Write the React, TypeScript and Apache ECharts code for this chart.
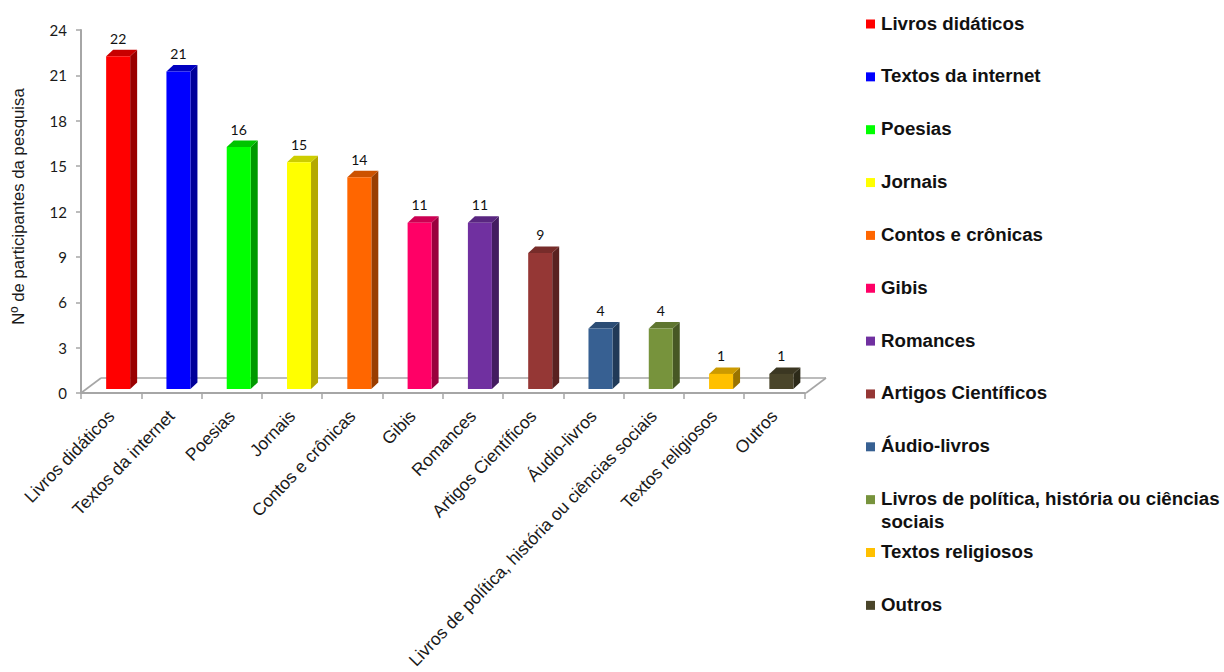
import React, { useEffect, useRef } from "react";
import * as echarts from "echarts";

const categories = [
  "Livros didáticos",
  "Textos da internet",
  "Poesias",
  "Jornais",
  "Contos e crônicas",
  "Gibis",
  "Romances",
  "Artigos Científicos",
  "Áudio-livros",
  "Livros de política, história ou ciências sociais",
  "Textos religiosos",
  "Outros",
];
const keyLabels = categories.map((name) =>
  name.replace("ciências sociais", "ciências\nsociais"),
);
const participants = [22, 21, 16, 15, 14, 11, 11, 9, 4, 4, 1, 1];
const barColors = [
  "#ff0000", "#0000ff", "#00ff00", "#ffff00", "#ff6600", "#ff0066",
  "#7030a0", "#953735", "#376092", "#77933c", "#ffc000", "#4a452a",
];
const topColors = [
  "#c80000", "#0000c0", "#00c400", "#cdcd00", "#cc5200", "#cc0052",
  "#592680", "#772c2a", "#2c4d75", "#5f7630", "#cc9a00", "#3b3722",
];
const sideColors = [
  "#990000", "#000099", "#009900", "#b3a800", "#993d00", "#99003d",
  "#431c60", "#592120", "#213a58", "#475824", "#997300", "#2c2a19",
];

const AXIS_COLOR = "#a6a6a6";
const BAR_SHIFT = 5; // front face starts left of the category centre by this much
const BAR_WIDTH = 24;
const DEPTH_X = 7;
const DEPTH_Y = 6.5;
const LIFT = 4; // bars stand slightly above the front edge of the floor

const renderBar = (params: any, api: any) => {
  const i = api.value(0);
  const v = api.value(1);
  const [cx, top] = api.coord([i, v]);
  const [, base] = api.coord([i, 0]);
  const l = cx - BAR_SHIFT;
  const r = l + BAR_WIDTH;
  const t = top - LIFT;
  const b = base - LIFT;
  return {
    type: "group",
    children: [
      {
        type: "polygon",
        shape: { points: [[r, t], [r + DEPTH_X, t - DEPTH_Y], [r + DEPTH_X, b - DEPTH_Y], [r, b]] },
        style: { fill: sideColors[i] },
      },
      {
        type: "polygon",
        shape: { points: [[l, t], [l + DEPTH_X, t - DEPTH_Y], [r + DEPTH_X, t - DEPTH_Y], [r, t]] },
        style: { fill: topColors[i] },
      },
      {
        type: "rect",
        shape: { x: l, y: t, width: BAR_WIDTH, height: b - t },
        style: { fill: barColors[i] },
      },
      {
        type: "text",
        style: {
          text: String(v),
          x: l + BAR_WIDTH / 2,
          y: t - DEPTH_Y - 11.5,
          align: "center",
          verticalAlign: "middle",
          font: "14px Lato",
          fill: "#111111",
        },
      },
    ],
  };
};

// Floor outline of the pseudo-3D plot and the hand-placed key on the right.
const floorLine = (x1: number, y1: number, x2: number, y2: number) => ({
  type: "line",
  z: 0,
  shape: { x1, y1, x2, y2 },
  style: { stroke: AXIS_COLOR, lineWidth: 1.6 },
});

const keyEntries = keyLabels.flatMap((label, i) => {
  const y = 24 + i * 52.85;
  return [
    {
      type: "rect",
      shape: { x: 866, y: y - 4.5, width: 9, height: 9 },
      style: { fill: barColors[i] },
    },
    {
      type: "text",
      x: 881,
      y: y - 12.5,
      style: {
        text: label,
        lineHeight: 23,
        verticalAlign: "top",
        font: "bold 18.7px 'Liberation Sans'",
        fill: "#111111",
      },
    },
  ];
});

export default function App() {
  const ref = useRef<HTMLDivElement>(null);

  useEffect(() => {
    const chart = echarts.init(ref.current!, undefined, { renderer: "svg" });
    chart.setOption({
      animation: false,
      backgroundColor: "#ffffff",
      grid: { left: 81, right: 419.5, top: 30, bottom: 279 },
      xAxis: {
        type: "category",
        data: categories,
        axisLine: { lineStyle: { color: AXIS_COLOR, width: 2 } },
        axisTick: { show: true, length: 6, alignWithLabel: false, lineStyle: { color: AXIS_COLOR, width: 1.5 } },
        axisLabel: {
          rotate: 46,
          interval: 0,
          margin: 20,
          fontFamily: "Liberation Sans",
          fontSize: 17.5,
          color: "#1a1a1a",
        },
        splitLine: { show: false },
      },
      yAxis: {
        type: "value",
        min: 0,
        max: 24,
        interval: 3,
        name: "Nº de participantes da pesquisa",
        nameLocation: "middle",
        nameGap: 54,
        nameTextStyle: { fontFamily: "Liberation Sans", fontSize: 16.8, color: "#1a1a1a", padding: [0, 0, 0, 10] },
        axisLine: { show: true, lineStyle: { color: AXIS_COLOR, width: 2 } },
        axisTick: { show: true, length: 5, lineStyle: { color: AXIS_COLOR, width: 1.5 } },
        axisLabel: { fontFamily: "Lato", fontSize: 15, color: "#1a1a1a", margin: 14 },
        splitLine: { show: false },
      },
      series: [
        {
          type: "custom",
          name: "Nº de participantes",
          clip: false,
          z: 5,
          data: participants.map((v, i) => [i, v]),
          encode: { x: 0, y: 1 },
          renderItem: renderBar,
        },
      ],
      graphic: [
        floorLine(81, 393, 101, 378),
        floorLine(101, 378, 826, 378),
        floorLine(826, 378, 806, 393),
        floorLine(804, 393, 806, 393),
        ...keyEntries,
      ],
    });
    return () => chart.dispose();
  }, []);

  return <div ref={ref} style={{ position: "absolute", left: 0, top: 0, width: 1224, height: 672 }} />;
}
